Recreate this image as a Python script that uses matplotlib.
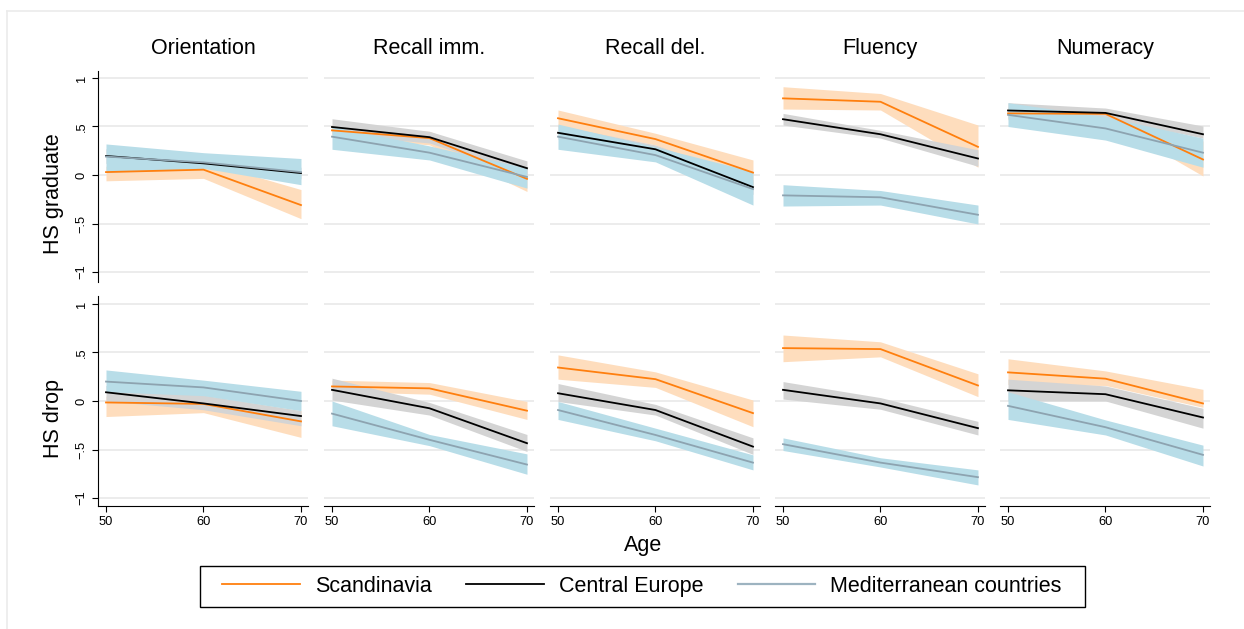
import matplotlib
matplotlib.use("Agg")
import matplotlib.pyplot as plt
from matplotlib.lines import Line2D
from matplotlib.patches import Rectangle

plt.rcParams["font.family"] = ["Liberation Sans", "DejaVu Sans"]

# ages at which the profiles are evaluated
ages = [50, 60, 70]

tests = ["Orientation", "Recall imm.", "Recall del.", "Fluency", "Numeracy"]
groups = ["HS graduate", "HS drop"]
regions = ["Scandinavia", "Central Europe", "Mediterranean countries"]

# mean / lower / upper, per group -> per test -> per region
scan_mean = {
    "HS graduate": [[0.03, 0.055, -0.31], [0.46, 0.38, -0.04], [0.585, 0.37, 0.025],
                    [0.79, 0.755, 0.29], [0.635, 0.63, 0.16]],
    "HS drop": [[-0.015, -0.03, -0.21], [0.15, 0.13, -0.10], [0.345, 0.225, -0.125],
                [0.545, 0.535, 0.16], [0.295, 0.23, -0.025]],
}
scan_lo = {
    "HS graduate": [[-0.06, -0.035, -0.45], [0.40, 0.31, -0.17], [0.50, 0.31, -0.10],
                    [0.68, 0.67, 0.08], [0.57, 0.57, -0.01]],
    "HS drop": [[-0.16, -0.12, -0.375], [0.10, 0.07, -0.19], [0.225, 0.14, -0.265],
                [0.405, 0.455, 0.045], [0.17, 0.16, -0.065]],
}
scan_hi = {
    "HS graduate": [[0.09, 0.14, -0.15], [0.52, 0.45, 0.08], [0.67, 0.43, 0.155],
                    [0.91, 0.84, 0.515], [0.70, 0.68, 0.35]],
    "HS drop": [[0.05, 0.06, -0.10], [0.215, 0.19, -0.005], [0.475, 0.30, 0.01],
                [0.68, 0.61, 0.28], [0.435, 0.31, 0.12]],
}

cent_mean = {
    "HS graduate": [[0.196, 0.12, 0.02], [0.495, 0.39, 0.07], [0.435, 0.265, -0.125],
                    [0.575, 0.42, 0.17], [0.665, 0.64, 0.42]],
    "HS drop": [[0.09, -0.025, -0.155], [0.115, -0.075, -0.435], [0.08, -0.093, -0.47],
                [0.115, -0.025, -0.28], [0.11, 0.07, -0.17]],
}
cent_lo = {
    "HS graduate": [[0.12, 0.07, -0.04], [0.42, 0.33, 0.0], [0.37, 0.22, -0.20],
                    [0.515, 0.38, 0.09], [0.58, 0.59, 0.38]],
    "HS drop": [[0.0, -0.09, -0.255], [0.01, -0.145, -0.52], [-0.005, -0.145, -0.55],
                [0.02, -0.085, -0.35], [0.0, 0.0, -0.28]],
}
cent_hi = {
    "HS graduate": [[0.27, 0.17, 0.08], [0.58, 0.45, 0.145], [0.51, 0.31, -0.05],
                    [0.635, 0.46, 0.26], [0.745, 0.69, 0.505]],
    "HS drop": [[0.16, 0.06, -0.10], [0.235, -0.015, -0.345], [0.18, -0.035, -0.38],
                [0.20, 0.035, -0.21], [0.225, 0.155, -0.075]],
}

med_mean = {
    "HS graduate": [[0.19, 0.13, 0.03], [0.395, 0.23, -0.02], [0.395, 0.205, -0.145],
                    [-0.21, -0.23, -0.41], [0.62, 0.48, 0.23]],
    "HS drop": [[0.20, 0.14, 0.0], [-0.13, -0.40, -0.655], [-0.093, -0.35, -0.635],
                [-0.445, -0.635, -0.785], [-0.05, -0.27, -0.555]],
}
med_lo = {
    "HS graduate": [[0.03, 0.07, -0.10], [0.265, 0.155, -0.135], [0.265, 0.135, -0.31],
                    [-0.32, -0.31, -0.505], [0.50, 0.36, 0.08]],
    "HS drop": [[0.096, 0.055, -0.10], [-0.255, -0.46, -0.755], [-0.19, -0.41, -0.71],
                [-0.51, -0.68, -0.865], [-0.19, -0.35, -0.67]],
}
med_hi = {
    "HS graduate": [[0.32, 0.23, 0.17], [0.50, 0.30, 0.07], [0.525, 0.29, 0.035],
                    [-0.10, -0.16, -0.31], [0.745, 0.60, 0.38]],
    "HS drop": [[0.32, 0.215, 0.10], [0.0, -0.345, -0.545], [-0.005, -0.28, -0.555],
                [-0.38, -0.585, -0.71], [0.095, -0.195, -0.455]],
}

series = [
    (scan_mean, scan_lo, scan_hi, "#FF7F0E", "#FEDDBD"),
    (cent_mean, cent_lo, cent_hi, "#000000", "#D4D4D4"),
    (med_mean, med_lo, med_hi, "#8DA3B0", "#B8DDE8"),
]

W, H = 1244, 629
fig = plt.figure(figsize=(W / 100, H / 100), dpi=100)

lefts = [98, 324, 550, 775, 1000]
pw = 210
rows = [(71, 282, (-1.103, 1.072)), (296, 506, (-1.082, 1.082))]

for r, g in enumerate(groups):
    top, bot, ylim = rows[r]
    for c, t in enumerate(tests):
        ax = fig.add_axes([lefts[c] / W, (H - bot) / H, pw / W, (bot - top) / H])
        for (m, lo, hi, lc, fc) in series:
            ax.fill_between(ages, lo[g][c], hi[g][c], color=fc, lw=0, zorder=1)
        for (m, lo, hi, lc, fc) in series:
            ax.plot(ages, m[g][c], color=lc, lw=1.3, zorder=3)
        ax.set_xlim(49.18, 70.72)
        ax.set_ylim(*ylim)
        ax.set_yticks([-1, -0.5, 0, 0.5, 1])
        ax.set_xticks(ages)
        ax.grid(axis="y", color="#EAEAEA", lw=1.3, zorder=0)
        ax.set_axisbelow(True)
        for s in ["top", "right"]:
            ax.spines[s].set_visible(False)
        ax.spines["left"].set_visible(c == 0)
        ax.spines["bottom"].set_visible(r == 1)
        ax.tick_params(direction="out", length=4, width=0.8, labelsize=9.3, colors="black")
        if c == 0:
            ax.set_yticklabels(["\u22121", "\u2212.5", "0", ".5", "1"], rotation=90, va="center")
        else:
            ax.tick_params(axis="y", left=False, labelleft=False)
        if r == 0:
            ax.tick_params(axis="x", bottom=False, labelbottom=False)
            ax.set_title(t, fontsize=15.5, pad=12)
        if c == 0:
            yc = (H - (top + bot) / 2 - 17) / H
            fig.text(54 / W, yc, g, rotation=90, fontsize=15.5, ha="center", va="center")

fig.text(643 / W, (H - 545) / H, "Age", fontsize=15.5, ha="center", va="center")

handles = [Line2D([0], [0], color=s[3], lw=1.3) for s in series]
handles[2] = Line2D([0], [0], color="#9DB3C0", lw=1.6)
fig.legend(handles, regions, loc="center", ncol=3, bbox_to_anchor=(642 / W, (H - 586.5) / H),
           fontsize=15.5, frameon=False, handlelength=3.6, handletextpad=0.7,
           columnspacing=1.6, borderpad=0.45)
fig.add_artist(Rectangle((200 / W, (H - 607) / H), 885 / W, 41 / H, fill=False,
                         edgecolor="black", lw=1.0, transform=fig.transFigure))

# faint outer frame of the graph region
fig.add_artist(Line2D([7 / W, 7 / W], [0, (H - 11) / H], color="#EBEBEB", lw=1.2, transform=fig.transFigure))
fig.add_artist(Line2D([7 / W, 1], [(H - 11) / H, (H - 11) / H], color="#EBEBEB", lw=1.2, transform=fig.transFigure))

fig.savefig("out.png", dpi=100)
